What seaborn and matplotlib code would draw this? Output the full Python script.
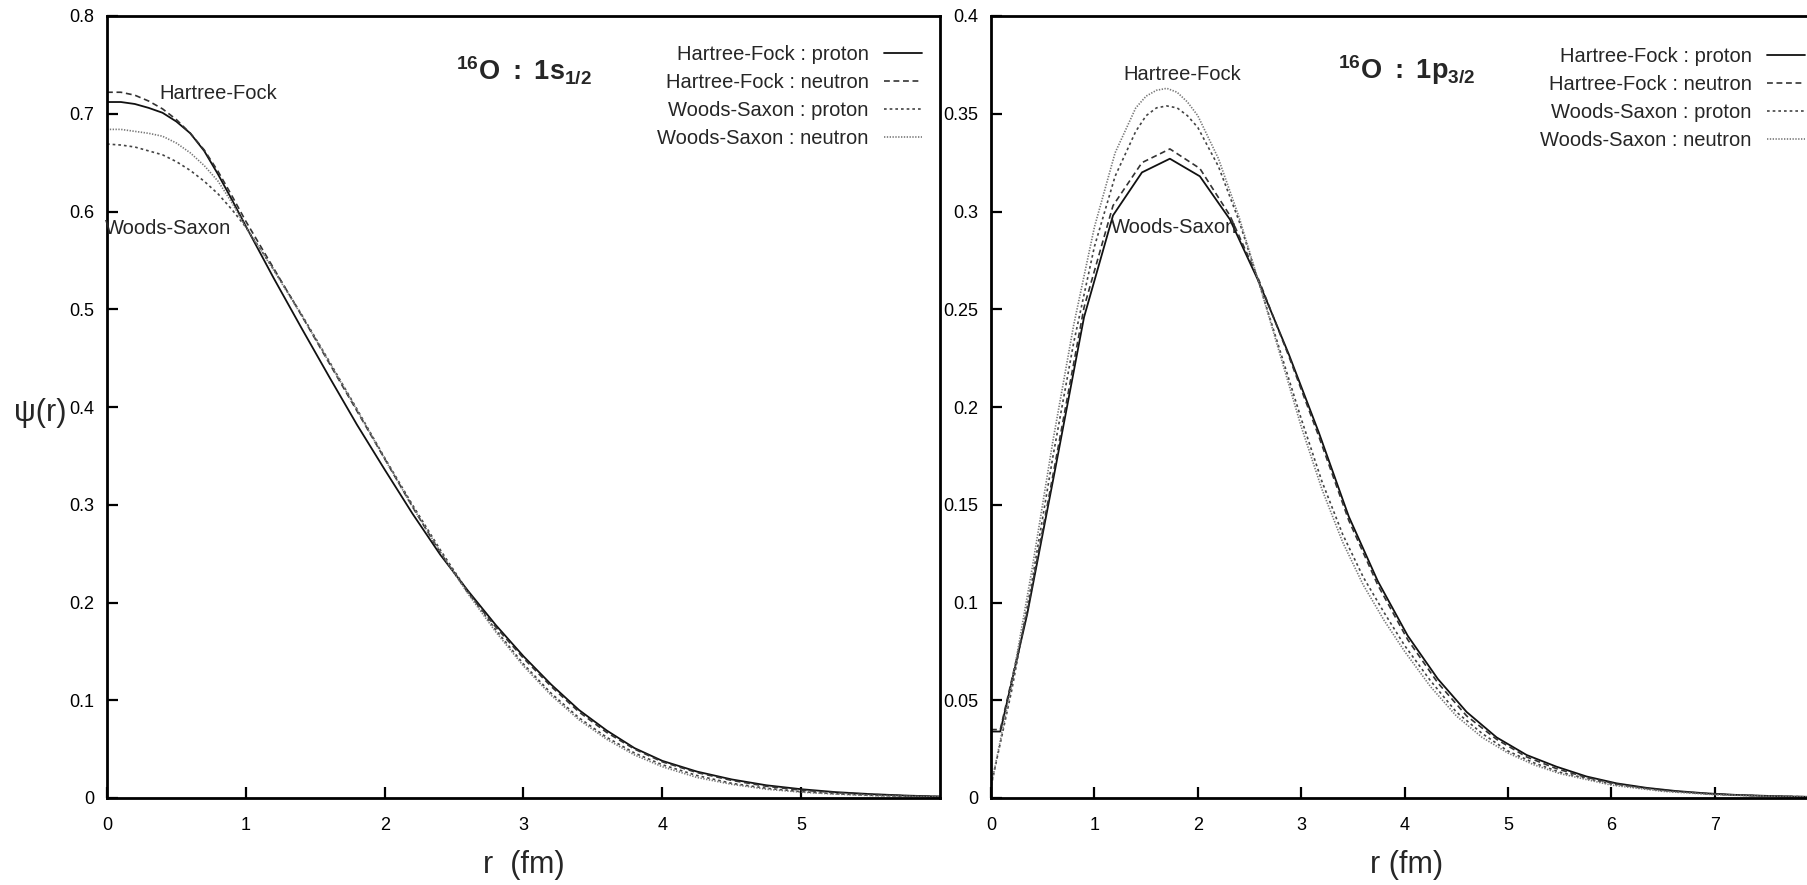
import matplotlib
matplotlib.use("Agg")
import matplotlib.pyplot as plt
import seaborn as sns
from matplotlib import font_manager
from matplotlib.ticker import FuncFormatter

# ---------------- data ----------------
# Left panel: 16O 1s1/2
r_s = [0, 0.1, 0.2, 0.3, 0.4, 0.5, 0.6, 0.7, 0.8, 0.9, 1.0,
       1.2, 1.4, 1.6, 1.8, 2.0, 2.2, 2.4, 2.6, 2.8, 3.0, 3.2, 3.4, 3.6, 3.8, 4.0,
       4.25, 4.5, 4.75, 5.0, 5.25, 5.5, 5.75, 6.0]
hf_proton_s = [0.712, 0.712, 0.710, 0.706, 0.701, 0.692, 0.680, 0.662, 0.638, 0.612, 0.585,
               0.532, 0.481, 0.431, 0.382, 0.336, 0.291, 0.249, 0.212, 0.177, 0.145, 0.116, 0.090, 0.069, 0.051, 0.038,
               0.027, 0.019, 0.013, 0.009, 0.006, 0.004, 0.0025, 0.0015]
hf_neutron_s = [0.722, 0.722, 0.719, 0.713, 0.705, 0.694, 0.680, 0.663, 0.641, 0.616, 0.590,
                0.542, 0.494, 0.445, 0.396, 0.347, 0.298, 0.251, 0.210, 0.175, 0.143, 0.114, 0.088, 0.067, 0.050, 0.037,
                0.026, 0.018, 0.012, 0.008, 0.0055, 0.0037, 0.0023, 0.0014]
ws_proton_s = [0.669, 0.668, 0.666, 0.662, 0.658, 0.651, 0.642, 0.631, 0.618, 0.602, 0.584,
               0.541, 0.495, 0.447, 0.398, 0.348, 0.300, 0.254, 0.211, 0.172, 0.137, 0.107, 0.082, 0.062, 0.046, 0.034,
               0.023, 0.015, 0.010, 0.0065, 0.0043, 0.0028, 0.0018, 0.0011]
ws_neutron_s = [0.684, 0.684, 0.682, 0.680, 0.677, 0.670, 0.660, 0.647, 0.631, 0.609, 0.584,
                0.540, 0.494, 0.446, 0.397, 0.347, 0.298, 0.252, 0.209, 0.170, 0.135, 0.105, 0.080, 0.060, 0.044, 0.032,
                0.021, 0.014, 0.009, 0.006, 0.004, 0.0025, 0.0016, 0.001]

# Right panel: 16O 1p3/2
r_hf_p = [0, 0.09, 0.35, 0.62, 0.90, 1.18, 1.46, 1.73, 2.02, 2.31, 2.59, 2.88, 3.17, 3.46, 3.74,
          4.03, 4.32, 4.60, 4.89, 5.18, 5.47, 5.76, 6.05, 6.34, 6.62, 6.91, 7.20, 7.49, 7.78, 8.07]
hf_proton_p = [0.034, 0.034, 0.094, 0.168, 0.246, 0.298, 0.320, 0.327, 0.318, 0.296, 0.264, 0.227, 0.187, 0.144, 0.111,
               0.083, 0.061, 0.044, 0.031, 0.022, 0.016, 0.011, 0.0075, 0.0052, 0.0036, 0.0024, 0.0016, 0.0011, 0.0007, 0.0005]
hf_neutron_p = [0.035, 0.035, 0.095, 0.171, 0.251, 0.303, 0.325, 0.332, 0.322, 0.298, 0.265, 0.226, 0.185, 0.142, 0.109,
                0.081, 0.059, 0.042, 0.030, 0.021, 0.015, 0.0105, 0.0072, 0.0049, 0.0034, 0.0023, 0.0015, 0.001, 0.0007, 0.0004]
r_ws_p = [0, 0.2, 0.4, 0.6, 0.8, 1.0, 1.2, 1.4, 1.5, 1.6, 1.7, 1.8, 1.9, 2.0, 2.2, 2.4, 2.6, 2.8, 3.0,
          3.2, 3.4, 3.6, 3.8, 4.0, 4.25, 4.5, 4.75, 5.0, 5.25, 5.5, 6.0, 6.5, 7.0, 7.5, 8.0]
ws_proton_p = [0.006, 0.055, 0.112, 0.175, 0.233, 0.282, 0.318, 0.341, 0.349, 0.353, 0.354, 0.353, 0.349, 0.343, 0.323,
               0.295, 0.262, 0.228, 0.194, 0.162, 0.135, 0.113, 0.095, 0.078, 0.060, 0.044, 0.033, 0.024, 0.018, 0.0132,
               0.0071, 0.0037, 0.0019, 0.001, 0.0005]
ws_neutron_p = [0.006, 0.058, 0.118, 0.183, 0.242, 0.292, 0.330, 0.353, 0.359, 0.362, 0.363, 0.361, 0.356, 0.349, 0.327,
                0.297, 0.262, 0.226, 0.190, 0.158, 0.131, 0.109, 0.091, 0.075, 0.057, 0.042, 0.031, 0.023, 0.017, 0.0125,
                0.0066, 0.0034, 0.0017, 0.0009, 0.0005]

labels = ["Hartree-Fock : proton", "Hartree-Fock : neutron",
          "Woods-Saxon : proton", "Woods-Saxon : neutron"]
xticks_s = [0, 1, 2, 3, 4, 5]
yticks_s = [0, 0.1, 0.2, 0.3, 0.4, 0.5, 0.6, 0.7, 0.8]
xticks_p = [0, 1, 2, 3, 4, 5, 6, 7]
yticks_p = [0, 0.05, 0.1, 0.15, 0.2, 0.25, 0.3, 0.35, 0.4]

# ---------------- style ----------------
sns.set_theme(style="white")
avail = {f.name for f in font_manager.fontManager.ttflist}
narrow = "Liberation Sans Narrow" if "Liberation Sans Narrow" in avail else "Liberation Sans"
plt.rcParams["font.family"] = [narrow, "Liberation Sans", "DejaVu Sans"]
plt.rcParams["mathtext.fontset"] = "custom"
plt.rcParams["mathtext.rm"] = f"{narrow}:bold"
plt.rcParams["mathtext.it"] = f"{narrow}:bold"
plt.rcParams["mathtext.bf"] = f"{narrow}:bold"

styles = [
    dict(color="#111111", lw=1.3, ls="-"),
    dict(color="#333333", lw=1.2, ls=(0, (3.5, 2.2))),
    dict(color="#444444", lw=1.2, ls=(0, (1.6, 1.8))),
    dict(color="#777777", lw=1.2, ls=(0, (0.8, 0.9))),
]

W, H = 1808, 885
fig = plt.figure(figsize=(W / 100, H / 100), dpi=100)
fig.patch.set_facecolor("white")

def fig_rect(x0, x1, ytop, ybot):
    return [x0 / W, 1 - ybot / H, (x1 - x0) / W, (ybot - ytop) / H]

ax1 = fig.add_axes(fig_rect(107, 940, 16, 798))
ax2 = fig.add_axes(fig_rect(991, 991 + 8 * 103.4, 16, 798))

fmt = FuncFormatter(lambda v, p: f"{round(v, 3):g}")

def setup(ax, xlim, ylim, xt, yt):
    ax.set_xlim(*xlim)
    ax.set_ylim(*ylim)
    ax.set_xticks(xt)
    ax.set_yticks(yt)
    ax.xaxis.set_major_formatter(fmt)
    ax.yaxis.set_major_formatter(fmt)
    for s in ax.spines.values():
        s.set_linewidth(2.0)
        s.set_color("black")
        s.set_visible(True)
    ax.tick_params(axis="both", which="major", direction="in", length=8, width=1.6,
                   colors="black", labelsize=13, top=False, right=False,
                   bottom=True, left=True)
    ax.tick_params(axis="x", pad=14)
    ax.tick_params(axis="y", pad=9)
    ax.grid(False)
    ax.set_facecolor("white")

setup(ax1, (0, 6), (0, 0.8), xticks_s, yticks_s)
setup(ax2, (0, 8), (0, 0.4), xticks_p, yticks_p)

series_s = [(r_s, hf_proton_s), (r_s, hf_neutron_s), (r_s, ws_proton_s), (r_s, ws_neutron_s)]
series_p = [(r_hf_p, hf_proton_p), (r_hf_p, hf_neutron_p), (r_ws_p, ws_proton_p), (r_ws_p, ws_neutron_p)]

for ax, series in ((ax1, series_s), (ax2, series_p)):
    for (xs, ys), st, lab in zip(series, styles, labels):
        sns.lineplot(x=xs, y=ys, ax=ax, color=st["color"], linewidth=st["lw"],
                     linestyle=st["ls"], label=lab, sort=False, legend=False)

leg_fs = 14.5
for ax, anchor in ((ax1, (922, 45)), (ax2, (1805, 47))):
    handles = ax.get_lines()[:4]
    ax.legend(handles, labels, loc="upper right",
              bbox_to_anchor=(anchor[0] / W, 1 - anchor[1] / H),
              bbox_transform=fig.transFigure, frameon=False,
              markerfirst=False, fontsize=leg_fs, handlelength=1.9,
              handletextpad=0.75, labelspacing=0.45, borderpad=0,
              borderaxespad=0)

# titles
title_s = r"$\mathrm{^{16}O\ :\ 1s_{1/2}}$"
title_p = r"$\mathrm{^{16}O\ :\ 1p_{3/2}}$"
fig.text(524 / W, 1 - 70 / H, title_s, fontsize=19.5, ha="center", va="center")
fig.text(1407 / W, 1 - 70 / H, title_p, fontsize=19.5, ha="center", va="center")

# annotations
ann_fs = 14.5
ax1.text(0.80, 0.721, "Hartree-Fock", fontsize=ann_fs, ha="center", va="center")
ax1.text(0.44, 0.583, "Woods-Saxon", fontsize=ann_fs, ha="center", va="center")
ax2.text(1.85, 0.370, "Hartree-Fock", fontsize=ann_fs, ha="center", va="center")
ax2.text(1.77, 0.292, "Woods-Saxon", fontsize=ann_fs, ha="center", va="center")

# axis labels
lab_font = ["Liberation Sans", "DejaVu Sans"]
ax1.set_xlabel("r  (fm)", fontsize=22, family=lab_font)
ax1.xaxis.set_label_coords(0.5, -0.0857)
ax1.xaxis.label.set_va("center")
ax2.set_xlabel("r (fm)", fontsize=22, family=lab_font)
ax2.xaxis.set_label_coords((1407 - 991) / (8 * 103.4), -0.0857)
ax2.xaxis.label.set_va("center")
ax1.set_ylabel("ψ(r)", fontsize=22, family=lab_font, rotation=0)
ax1.yaxis.set_label_coords((40 - 107) / 833, (798 - 413) / 782)
ax1.yaxis.label.set_va("center")
ax1.yaxis.label.set_ha("center")
ax2.set_ylabel("")

fig.savefig("out.png", dpi=100, facecolor="white")
